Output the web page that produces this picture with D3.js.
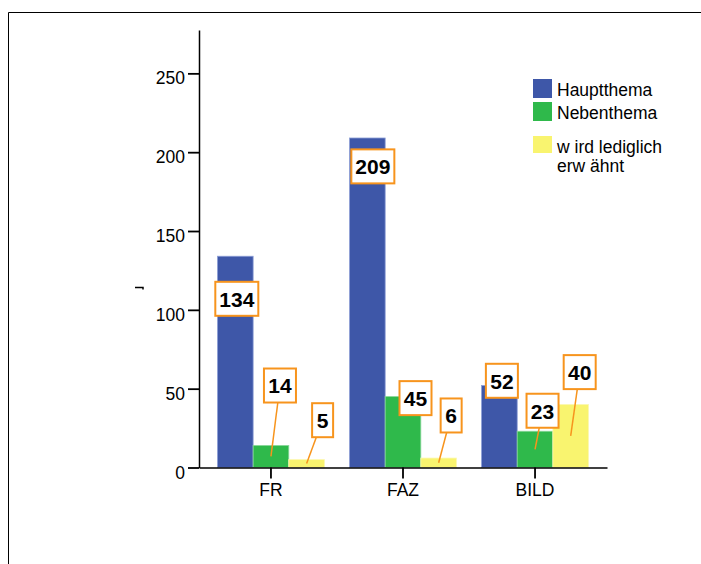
<!DOCTYPE html>
<html>
<head>
<meta charset="utf-8">
<script src="https://cdn.jsdelivr.net/npm/d3@7"></script>
<style>
  html, body { margin: 0; padding: 0; background: #fff; }
  svg { display: block; font-family: "Liberation Sans", Arial, sans-serif; }
</style>
</head>
<body>
<div id="chart"></div>
<script>
// data
const categories = ["FR", "FAZ", "BILD"];
const seriesNames = ["Hauptthema", "Nebenthema", "wird lediglich erwähnt"];
const legendLines = [["Hauptthema"], ["Nebenthema"], ["w ird lediglich", "erw ähnt"]];
const hauptthema = [134, 209, 52];
const nebenthema = [14, 45, 23];
const erwaehnt = [5, 6, 40];
const yTicks = [0, 50, 100, 150, 200, 250];

// label box placement: [dx from bar centre, box centre in data units, leader line?]
const labelPlacement = [
    [[1.5, 107, false], [5.5, 191, false], [2.5, 55, false]],
    [[9, 52, true], [12.5, 44, false], [7.5, 36, true]],
    [[16, 30, true], [12.5, 33, true], [9, 60.5, true]]
];

const colors = ["#3e57a8", "#2fb94b", "#f9f46f"];
const edge = ["#8d9fd6", "#8ad79a", "#fbf8b2"];

const W = 701, H = 564;
const svg = d3.select("#chart").append("svg")
    .attr("width", W).attr("height", H);

// outer frame (only top and left visible)
svg.append("path")
    .attr("d", `M8.5,${H} V12.5 H${W}`)
    .attr("fill", "none").attr("stroke", "#000").attr("stroke-width", 1);

const x = d3.scaleBand().domain(categories).range([199, 607])
    .paddingInner(0.19).paddingOuter(0.14);
const xSub = d3.scaleBand().domain(d3.range(3)).range([0, x.bandwidth()]);
const y = d3.scaleLinear().domain([0, 277.5]).range([467.5, 30]);

const series = [hauptthema, nebenthema, erwaehnt];
const rows = [];
series.forEach((vals, s) => vals.forEach((v, i) => rows.push({ s, i, v })));

// bars
svg.append("g").selectAll("rect")
    .data(rows).join("rect")
    .attr("x", d => x(categories[d.i]) + xSub(d.s))
    .attr("width", xSub.bandwidth())
    .attr("y", d => y(d.v))
    .attr("height", d => y(0) - y(d.v))
    .attr("fill", d => colors[d.s])
    .attr("stroke", d => edge[d.s])
    .attr("stroke-width", 0.8);

// axes
const yAxis = svg.append("g")
    .attr("transform", "translate(199,0)")
    .call(d3.axisLeft(y).tickValues(yTicks).tickSize(11).tickPadding(3).tickSizeOuter(0));
yAxis.select(".domain").attr("stroke-width", 1.5);
yAxis.selectAll(".tick line").attr("stroke-width", 1.8);
yAxis.selectAll(".tick text")
    .attr("font-size", 17.5).attr("fill", "#000")
    .attr("font-family", "'Liberation Sans', Arial, sans-serif")
    .attr("dy", "0.6em");

const xAxis = svg.append("g")
    .attr("transform", `translate(0,${y(0)})`)
    .call(d3.axisBottom(x).tickSize(11).tickPadding(5).tickSizeOuter(0));
xAxis.select(".domain").attr("stroke-width", 1.5);
xAxis.selectAll(".tick line").attr("stroke-width", 1.8);
xAxis.selectAll(".tick text")
    .attr("font-size", 17.5).attr("fill", "#000")
    .attr("font-family", "'Liberation Sans', Arial, sans-serif");

// stray axis title fragment at left
svg.append("path")
    .attr("d", "M135,287.5 H143 V289.5")
    .attr("fill", "none").attr("stroke", "#000").attr("stroke-width", 1.5);

// value labels
const labels = svg.append("g");
rows.forEach(d => {
    const [dx, vc, lead] = labelPlacement[d.s][d.i];
    const cx = x(categories[d.i]) + xSub(d.s) + xSub.bandwidth() / 2;
    const bx = cx + dx, by = y(vc);
    const txt = String(d.v);
    const bw = txt.length * 11 + 10, bh = 34;
    if (lead) {
        labels.append("line")
            .attr("x1", cx).attr("y1", y(d.v / 2))
            .attr("x2", bx).attr("y2", by)
            .attr("stroke", "#f7941d").attr("stroke-width", 1.5);
    }
    labels.append("rect")
        .attr("x", bx - bw / 2).attr("y", by - bh / 2)
        .attr("width", bw).attr("height", bh)
        .attr("fill", "#fff").attr("stroke", "#f7941d").attr("stroke-width", 2);
    labels.append("text")
        .attr("x", bx).attr("y", by + 7.8)
        .attr("text-anchor", "middle")
        .attr("font-size", 21).attr("font-weight", "bold")
        .text(txt);
});

// legend
const legend = svg.append("g");
const swatchY = [79, 102, 136];
legendLines.forEach((lines, s) => {
    legend.append("rect")
        .attr("x", 533).attr("y", swatchY[s])
        .attr("width", 19).attr("height", s === 2 ? 17 : 19)
        .attr("fill", colors[s]);
    lines.forEach((t, k) => {
        legend.append("text")
            .attr("x", 557).attr("y", swatchY[s] + 17 + k * 19)
            .attr("font-size", 17.5)
            .text(t);
    });
});
</script>
</body>
</html>
